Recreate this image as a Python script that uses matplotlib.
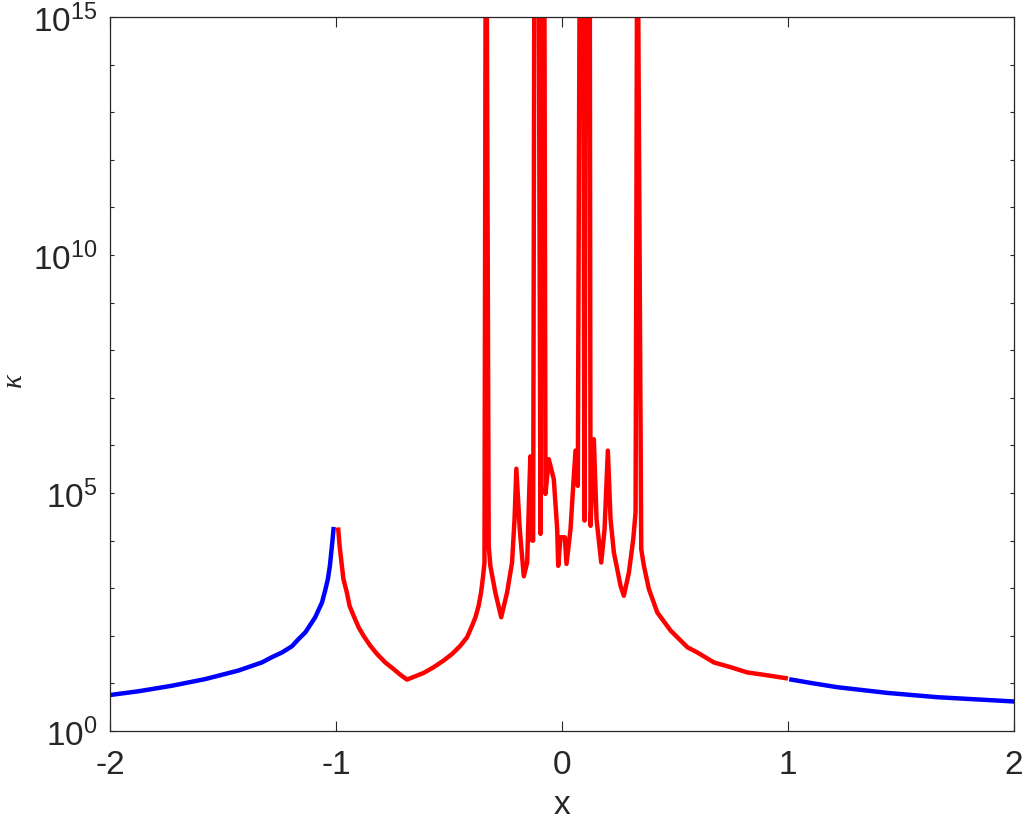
import matplotlib
matplotlib.use("Agg")
import matplotlib.pyplot as plt
import numpy as np
from matplotlib.ticker import FixedLocator, FuncFormatter

plt.rcParams['font.family'] = ['Liberation Sans', 'DejaVu Sans']
plt.rcParams['mathtext.fontset'] = 'custom'
plt.rcParams['mathtext.rm'] = 'Liberation Sans'
plt.rcParams['mathtext.it'] = 'Liberation Sans:italic'
plt.rcParams['mathtext.default'] = 'regular'
plt.rcParams['axes.unicode_minus'] = False

# ---- data (y given as log10(kappa)) ----
x_left = [-2.0, -1.875, -1.727, -1.579, -1.432, -1.328, -1.284, -1.239, -1.195,
          -1.166, -1.136, -1.107, -1.092, -1.062, -1.048, -1.036, -1.027,
          -1.021, -1.015, -1.011]
logk_left = [0.756, 0.834, 0.95, 1.09, 1.27, 1.44, 1.55, 1.65, 1.78,
             1.93, 2.07, 2.28, 2.39, 2.70, 2.95, 3.19, 3.47,
             3.75, 4.03, 4.24]

x_mid = [-0.990, -0.984, -0.974, -0.967, -0.952, -0.940, -0.922, -0.900,
         -0.878, -0.848, -0.819, -0.782, -0.745, -0.715, -0.686,
         -0.612, -0.568, -0.524, -0.486, -0.450, -0.420, -0.398, -0.383,
         -0.369, -0.358, -0.349, -0.343,
         -0.3380, -0.3330, -0.3243, -0.317, -0.295, -0.269, -0.243, -0.221,
         -0.210, -0.202, -0.187, -0.169, -0.154, -0.146, -0.140, -0.132,
         -0.1276, -0.1225, -0.1030, -0.0952, -0.0900, -0.0780, -0.0731,
         -0.0585, -0.0363, -0.0213, -0.0168, -0.0066, 0.0124, 0.0199,
         0.0377, 0.0496, 0.0598, 0.0700, 0.0780, 0.0940, 0.0997, 0.1060,
         0.1230, 0.1262, 0.1409, 0.1528, 0.1736, 0.1883, 0.2029, 0.2148,
         0.2295, 0.2444, 0.2590, 0.2737, 0.2960, 0.3153, 0.3256, 0.3320, 0.3365,
         0.3506, 0.3624, 0.3846, 0.4216, 0.4806, 0.5546, 0.5989, 0.6724,
         0.7464, 0.8204, 0.894, 0.990]
logk_mid = [4.23, 3.89, 3.47, 3.19, 2.91, 2.63, 2.42, 2.18,
            2.00, 1.79, 1.62, 1.44, 1.30, 1.18, 1.08,
            1.22, 1.34, 1.48, 1.62, 1.79, 1.97, 2.21, 2.39,
            2.63, 2.91, 3.26, 3.54,
            16.0, 16.0, 3.89, 3.47, 2.91, 2.39, 2.91, 3.54,
            4.45, 5.51, 4.24, 3.25, 3.54, 4.87, 5.77, 4.00,
            4.00, 16.0, 16.0, 4.14, 16.0, 16.0, 4.98,
            5.71, 5.29, 4.24, 3.47, 4.07, 4.07, 3.51,
            4.24, 5.15, 5.89, 5.15, 16.0, 16.0, 4.42, 16.0,
            16.0, 4.31, 6.13, 4.45, 3.54, 4.24, 5.89, 4.45,
            3.75, 3.40, 3.05, 2.84, 3.33, 4.03, 4.60, 16.0, 16.0,
            3.82, 3.47, 2.98, 2.49, 2.11, 1.76, 1.65, 1.44,
            1.34, 1.23, 1.18, 1.11]

x_right = [1.015, 1.10, 1.218, 1.440, 1.661, 2.0]
logk_right = [1.08, 1.01, 0.92, 0.80, 0.71, 0.62]

x_ticks = [-2, -1, 0, 1, 2]
y_tick_exps = list(range(0, 16))
y_label_exps = [0, 5, 10, 15]

# ---- figure ----
W, H = 1022, 820
fig = plt.figure(figsize=(W / 100, H / 100), dpi=100)
ax = fig.add_axes([110 / W, (H - 732) / H, (1014 - 110) / W, (732 - 18) / H])

lw = 3.2
ax.plot(x_left, np.power(10.0, logk_left), color='#0000ff', lw=lw)
ax.plot(x_mid, np.power(10.0, logk_mid), color='#ff0000', lw=lw)
ax.plot(x_right, np.power(10.0, logk_right), color='#0000ff', lw=lw)

ax.set_yscale('log')
ax.set_xlim(-2, 2)
ax.set_ylim(1e0, 1e15)

ax.xaxis.set_major_locator(FixedLocator(x_ticks))
ax.set_xticklabels([str(t) for t in x_ticks])
ax.yaxis.set_major_locator(FixedLocator([10.0 ** e for e in y_tick_exps]))
ax.yaxis.set_minor_locator(FixedLocator([]))


def yfmt(v, pos):
    e = int(round(np.log10(v)))
    return r'$10^{%d}$' % e if e in y_label_exps else ''


ax.yaxis.set_major_formatter(FuncFormatter(yfmt))

dark = '#262626'
for s in ax.spines.values():
    s.set_linewidth(0.9)
    s.set_color(dark)
ax.tick_params(axis='both', which='both', direction='in', top=True, right=True,
               colors=dark, width=0.8, labelsize=24, labelcolor=dark)
ax.tick_params(axis='x', length=7.2, pad=13)
ax.tick_params(axis='y', length=3.2, pad=9)

ax.set_xlabel('x', fontsize=24, color=dark)
ax.xaxis.set_label_coords(0.5, -0.081)
ax.set_ylabel('κ', fontsize=21, color=dark, rotation=90,
              family=['Liberation Serif', 'DejaVu Serif'], fontstyle='italic')
ax.yaxis.set_label_coords(-0.092, 0.493)

fig.savefig('out.png', dpi=100)
